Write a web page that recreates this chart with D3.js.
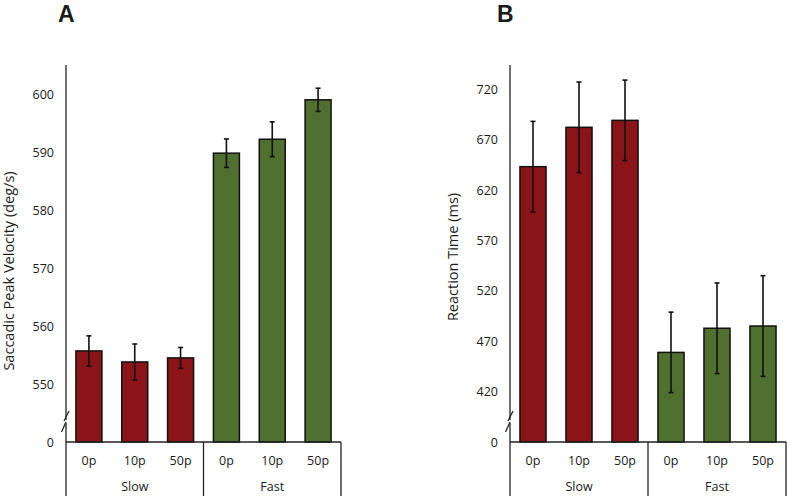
<!DOCTYPE html>
<html>
<head>
<meta charset="utf-8">
<script src="https://cdn.jsdelivr.net/npm/d3@7"></script>
<style>
  html, body { margin: 0; padding: 0; background: #fff; }
  svg { display: block; }
  text { font-family: "Open Sans", "Noto Sans", sans-serif; fill: #1a1a1a; }
</style>
</head>
<body>
<svg id="chart" width="787" height="496"></svg>
<script>
// ---- data ----
const groups = ["Slow", "Fast"];
const levels = ["0p", "10p", "50p"];
const velocity = [555.7, 553.8, 554.5, 589.8, 592.2, 599.0];
const velocityErr = [2.6, 3.1, 1.8, 2.45, 3.0, 2.0];
const reactionTime = [643.5, 682.6, 689.5, 459.0, 483.0, 485.2];
const reactionTimeErr = [45, 45, 40, 40, 45, 50];
const velocityTicks = [540, 550, 560, 570, 580, 590, 600];   // 540 shown as "0" (broken axis)
const rtTicks = [370, 420, 470, 520, 570, 620, 670, 720];      // 370 shown as "0" (broken axis)
const groupColors = {"Slow": "#8b1418", "Fast": "#50702f"};

const svg = d3.select("#chart");

function panel(opts) {
  const {x0, x1, yTop, yBase, domain, values, errs, ticks, title, letter, letterX, titleX} = opts;
  const g = svg.append("g");
  const keys = [];
  groups.forEach(gr => levels.forEach(l => keys.push(gr + "|" + l)));
  const x = d3.scaleBand().domain(keys).range([x0, x1]).paddingInner(0.433).paddingOuter(0.2165);
  const y = d3.scaleLinear().domain(domain).range([yBase, yTop]);

  // y axis labels
  const axis = d3.axisLeft(y).tickValues(ticks).tickSize(0).tickPadding(12)
    .tickFormat(d => d === domain[0] ? "0" : d3.format("d")(d));
  const ag = g.append("g").attr("transform", `translate(${x0},0)`).call(axis);
  ag.select(".domain").remove();
  ag.selectAll("text").style("font-family", '"Open Sans", sans-serif').style("font-size", "12.5px").attr("fill", "#1a1a1a");

  // bars
  const data = keys.map((k, i) => ({k, group: k.split("|")[0], level: k.split("|")[1], v: values[i], e: errs[i]}));
  g.selectAll("rect.bar").data(data).enter().append("rect")
    .attr("class", "bar")
    .attr("x", d => x(d.k))
    .attr("width", x.bandwidth())
    .attr("y", d => y(d.v))
    .attr("height", d => y(domain[0]) - y(d.v))
    .attr("fill", d => groupColors[d.group])
    .attr("stroke", "#111").attr("stroke-width", 1.5);

  // error bars
  const eb = g.selectAll("g.err").data(data).enter().append("g").attr("class", "err");
  eb.append("line")
    .attr("x1", d => x(d.k) + x.bandwidth() / 2).attr("x2", d => x(d.k) + x.bandwidth() / 2)
    .attr("y1", d => y(d.v + d.e)).attr("y2", d => y(d.v - d.e))
    .attr("stroke", "#111").attr("stroke-width", 1.6);
  [1, -1].forEach(s => {
    eb.append("line")
      .attr("x1", d => x(d.k) + x.bandwidth() / 2 - 2.5).attr("x2", d => x(d.k) + x.bandwidth() / 2 + 2.5)
      .attr("y1", d => y(d.v + s * d.e)).attr("y2", d => y(d.v + s * d.e))
      .attr("stroke", "#111").attr("stroke-width", 1.6);
  });

  // axis line (left) and category box
  g.append("line").attr("x1", x0).attr("x2", x0).attr("y1", yTop).attr("y2", 496)
    .attr("stroke", "#222").attr("stroke-width", 1.3);
  g.append("line").attr("x1", x0).attr("x2", x1).attr("y1", yBase).attr("y2", yBase)
    .attr("stroke", "#222").attr("stroke-width", 1.3);
  const sep = x(keys[3]) - x.step() * x.paddingInner() / 2;
  [sep, x1].forEach(xx => {
    g.append("line").attr("x1", xx).attr("x2", xx).attr("y1", yBase).attr("y2", 496)
      .attr("stroke", "#222").attr("stroke-width", 1.3);
  });

  // break marks
  const bx = x0;
  g.append("rect").attr("x", bx - 2).attr("y", 420).attr("width", 4).attr("height", 3).attr("fill", "#fff");
  g.append("line").attr("x1", bx - 2).attr("y1", 421).attr("x2", bx + 3).attr("y2", 411)
    .attr("stroke", "#222").attr("stroke-width", 1.3);
  g.append("line").attr("x1", bx - 4.5).attr("y1", 432).attr("x2", bx).attr("y2", 422)
    .attr("stroke", "#222").attr("stroke-width", 1.3);

  // category labels
  g.selectAll("text.lvl").data(data).enter().append("text")
    .attr("class", "lvl")
    .attr("x", d => x(d.k) + x.bandwidth() / 2).attr("y", 465)
    .attr("text-anchor", "middle").style("font-size", "12.5px")
    .text(d => d.level);
  groups.forEach((gr, gi) => {
    const a = x(gr + "|" + levels[0]), b = x(gr + "|" + levels[levels.length - 1]) + x.bandwidth();
    g.append("text").attr("x", (a + b) / 2).attr("y", 491)
      .attr("text-anchor", "middle").style("font-size", "12.5px").text(gr);
  });

  // axis title
  g.append("text")
    .attr("transform", `translate(${titleX},${opts.titleY}) rotate(-90)`)
    .attr("text-anchor", "middle").style("font-size", "14.5px").text(title);

  // panel letter
  g.append("text").attr("x", letterX).attr("y", 22)
    .style("font-family", '"Liberation Sans", Arial, sans-serif')
    .style("font-size", "23px").style("font-weight", "bold").attr("fill", "#000").text(letter);
}

panel({x0: 66, x1: 341, yTop: 65, yBase: 442, domain: [540, 605],
  values: velocity, errs: velocityErr, ticks: velocityTicks,
  title: "Saccadic Peak Velocity (deg/s)", titleX: 14, titleY: 271, letter: "A", letterX: 58});
panel({x0: 510, x1: 786, yTop: 65, yBase: 442, domain: [370, 744.5],
  values: reactionTime, errs: reactionTimeErr, ticks: rtTicks,
  title: "Reaction Time (ms)", titleX: 458, titleY: 257, letter: "B", letterX: 497});
</script>
</body>
</html>
